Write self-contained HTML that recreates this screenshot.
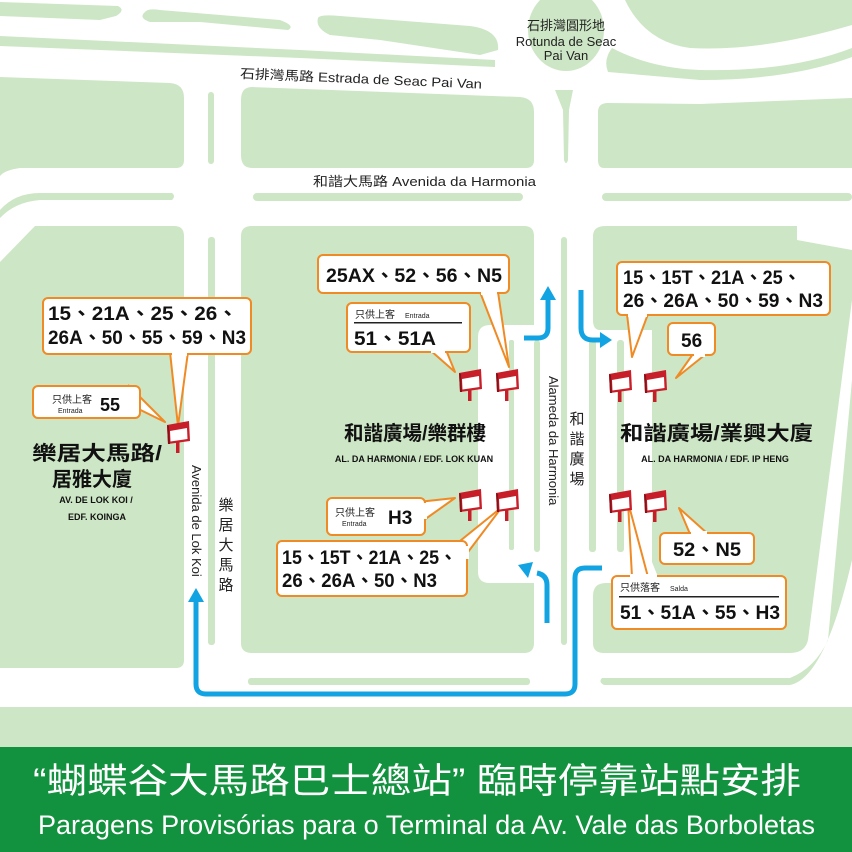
<!DOCTYPE html>
<html><head><meta charset="utf-8"><style>
html,body{margin:0;padding:0;background:#fff;}
svg{display:block;}
.n{font-family:"Liberation Sans","Noto Sans CJK TC",sans-serif;font-weight:bold;fill:#111;}
.s{font-family:"Liberation Sans","Noto Sans CJK TC",sans-serif;fill:#222;}
.b{fill:#fff;stroke:#f08a24;stroke-width:2;}
</style></head><body>
<svg width="852" height="852" viewBox="0 0 852 852" xmlns="http://www.w3.org/2000/svg">
<rect width="852" height="852" fill="#fff"/>
<g fill="#cde6c5">
<path d="M0,2 L118,6 Q126,10 116,16 L100,20 L0,16 Z"/>
<path d="M145,12 Q148,8 160,10 L280,20 Q296,26 288,30 L200,22 L150,22 Q138,18 145,12Z"/>
<path d="M318,18 Q320,14 340,16 L470,26 Q500,30 498,50 L480,55 L380,40 L330,35 Q315,28 318,18Z"/>
<path d="M0,36 L300,50 L495,60 L495,67 L300,58 L0,46 Z"/>
<ellipse cx="566" cy="30" rx="38" ry="41"/>
<path d="M625,0 L852,0 L852,25 Q760,52 690,48 Q645,42 625,0Z"/>
<path d="M612,48 Q650,68 700,70 Q790,72 852,48 L852,57 Q790,80 700,80 L608,72 Q603,60 612,48Z"/>
<path d="M0,77 L170,83 Q184,84 184,98 L184,160 Q184,168 176,168 L20,168 Q5,170 0,176Z"/>
<rect x="208" y="92" width="6" height="72" rx="3"/>
<path d="M252,87 L520,97 Q534,98 534,112 L534,160 Q534,168 526,168 L252,168 Q241,168 241,155 L241,100 Q241,87 252,87Z"/>
<path d="M555,90 L573,90 L569,110 L568,160 Q566,166 564,160 L563,110Z"/>
<path d="M608,103 L700,104 L852,98 L852,168 L604,168 Q598,168 598,160 L598,112 Q598,103 608,103Z"/>
<path d="M0,210 Q15,193 40,193 L172,193 Q176,196 172,200 L40,200 Q15,202 0,218Z"/>
<rect x="253" y="193" width="270" height="8" rx="4"/>
<rect x="602" y="193" width="250" height="8" rx="4"/>
<path d="M35,226 L174,226 Q184,226 184,236 L184,660 Q184,668 176,668 L0,668 L0,262Z"/>
<rect x="208" y="237" width="7" height="408" rx="3"/>
<path d="M252,226 L524,226 Q534,226 534,236 L534,325 L490,325 Q478,325 478,337 L478,572 Q478,583 490,583 L534,583 L534,643 Q534,653 524,653 L252,653 Q241,653 241,643 L241,236 Q241,226 252,226Z"/>
<rect x="509" y="340" width="5" height="210" rx="2"/>
<rect x="534" y="340" width="6" height="212" rx="3"/>
<rect x="561" y="237" width="6" height="408" rx="3"/>
<path d="M606,226 L797,226 L797,240 L852,250 L852,300 L808,640 Q805,653 790,653 L604,653 Q593,653 593,643 L593,596 Q593,583 606,583 L652,583 L652,330 L600,330 Q593,330 593,320 L593,236 Q593,226 606,226Z"/>
<rect x="589" y="340" width="7" height="212" rx="3"/>
<rect x="617" y="340" width="7" height="212" rx="3"/>
<path d="M852,380 L852,560 Q825,678 790,685 L604,685 Q598,682 602,678 L790,678 Q815,668 828,640 Z"/>
<rect x="248" y="678" width="282" height="7" rx="3"/>
<path d="M0,707 L852,707 L852,748 L0,748Z"/>
</g>
<rect x="0" y="747" width="852" height="105" fill="#12923f"/>
<text x="33" y="793" fill="#fff" font-family="'Liberation Sans','Noto Sans CJK TC',sans-serif" font-size="35" textLength="768" lengthAdjust="spacingAndGlyphs">“蝴蝶谷大馬路巴士總站” 臨時停靠站點安排</text>
<text x="38" y="834" fill="#fff" font-family="'Liberation Sans Narrow','Liberation Sans',sans-serif" font-size="27" textLength="777" lengthAdjust="spacingAndGlyphs">Paragens Provisórias para o Terminal da Av. Vale das Borboletas</text>

<text class="s" font-size="13" x="240" y="78" transform="rotate(2.5 240 78)" textLength="242" lengthAdjust="spacingAndGlyphs">石排灣馬路  Estrada de Seac Pai Van</text>
<text class="s" font-size="13" x="313" y="186" textLength="223" lengthAdjust="spacingAndGlyphs">和諧大馬路   Avenida da Harmonia</text>
<g class="s" font-size="13" text-anchor="middle">
<text x="566" y="30">石排灣圓形地</text>
<text x="566" y="46">Rotunda de Seac</text>
<text x="566" y="60">Pai Van</text>
</g>
<text class="s" font-size="13" transform="translate(192,465) rotate(90)">Avenida de Lok Koi</text>
<text class="s" font-size="13" transform="translate(549,376) rotate(90)">Alameda da Harmonia</text>
<g class="s" font-size="15" text-anchor="middle">
<text x="226" y="510">樂</text><text x="226" y="530">居</text><text x="226" y="550">大</text><text x="226" y="570">馬</text><text x="226" y="590">路</text>
<text x="577" y="424">和</text><text x="577" y="444">諧</text><text x="577" y="464">廣</text><text x="577" y="484">場</text>
</g>

<g stroke="#12a4e2" stroke-width="5" fill="none">
<path d="M196,600 L196,684 Q196,694 206,694 L565,694 Q575,694 575,684 L575,578 Q575,568 585,568 L602,568"/>
<path d="M547,623 L547,585 Q547,575 537,573"/>
<path d="M524,338 L538,338 Q548,338 548,328 L548,298"/>
<path d="M581,290 L581,328 Q581,340 593,340 L602,340"/>
</g>
<g fill="#12a4e2">
<path d="M188,602 L196,588 L204,602Z"/>
<path d="M518,565 L533,562 L528,578Z"/>
<path d="M540,300 L548,286 L556,300Z"/>
<path d="M600,332 L612,340 L600,348Z"/>
</g>

<g fill="#fff" stroke="#f08a24" stroke-width="2" stroke-linejoin="round">
<path d="M170,352 L178,426 L188,352"/>
<path d="M120,400 L165,422 L128,385"/>
<path d="M480,292 L509,367 L498,292"/>
<path d="M430,350 L455,372 L446,350"/>
<path d="M627,314 L632,357 L648,314"/>
<path d="M693,354 L676,378 L706,354"/>
<path d="M418,502 L455,498 L424,520"/>
<path d="M455,545 L502,507 L462,560"/>
<path d="M690,534 L679,508 L708,534"/>
<path d="M628,502 L632,577 L640,577"/>
<path d="M628,502 L648,577 L658,577"/>
</g>
<rect class="b" x="43" y="298" width="208" height="56" rx="5"/>
<rect class="b" x="33" y="386" width="107" height="32" rx="5"/>
<rect class="b" x="318" y="255" width="191" height="38" rx="5"/>
<rect class="b" x="347" y="303" width="123" height="49" rx="5"/>
<rect class="b" x="617" y="262" width="213" height="53" rx="5"/>
<rect class="b" x="668" y="323" width="47" height="32" rx="5"/>
<rect class="b" x="327" y="498" width="98" height="37" rx="5"/>
<rect class="b" x="277" y="541" width="190" height="55" rx="5"/>
<rect class="b" x="660" y="533" width="94" height="31" rx="5"/>
<rect class="b" x="612" y="576" width="174" height="53" rx="5"/>
<g fill="#fff">
<rect x="172" y="350" width="15" height="6"/>
<rect x="481" y="290" width="16" height="5"/>
<rect x="431" y="348" width="14" height="5"/>
<rect x="628" y="312" width="19" height="5"/>
<rect x="694" y="352" width="11" height="5"/>
<rect x="424" y="503" width="3" height="16"/>
<rect x="464" y="546" width="5" height="13"/>
<rect x="691" y="531" width="16" height="5"/>
<rect x="630" y="574" width="27" height="5"/>
</g>
<g class="n" font-size="19">
<text x="48" y="320" textLength="190" lengthAdjust="spacingAndGlyphs">15、21A、25、26、</text>
<text x="48" y="344" textLength="198" lengthAdjust="spacingAndGlyphs">26A、50、55、59、N3</text>
<text x="100" y="411" font-size="18">55</text>
<text x="326" y="282" textLength="176" lengthAdjust="spacingAndGlyphs">25AX、52、56、N5</text>
<text x="354" y="345" textLength="82" lengthAdjust="spacingAndGlyphs">51、51A</text>
<text x="623" y="284" textLength="178" lengthAdjust="spacingAndGlyphs">15、15T、21A、25、</text>
<text x="623" y="307" textLength="200" lengthAdjust="spacingAndGlyphs">26、26A、50、59、N3</text>
<text x="681" y="347">56</text>
<text x="388" y="524">H3</text>
<text x="282" y="564" textLength="175" lengthAdjust="spacingAndGlyphs">15、15T、21A、25、</text>
<text x="282" y="587" textLength="155" lengthAdjust="spacingAndGlyphs">26、26A、50、N3</text>
<text x="673" y="556" textLength="68" lengthAdjust="spacingAndGlyphs">52、N5</text>
<text x="620" y="619" textLength="160" lengthAdjust="spacingAndGlyphs">51、51A、55、H3</text>
</g>
<g class="s" font-size="10">
<text x="52" y="403">只供上客</text><text x="58" y="413" font-size="7">Entrada</text>
<text x="355" y="318">只供上客</text><text x="405" y="318" font-size="7">Entrada</text>
<text x="335" y="516">只供上客</text><text x="342" y="526" font-size="7">Entrada</text>
<text x="620" y="591">只供落客</text><text x="670" y="591" font-size="7">Salda</text>
</g>
<rect x="354" y="322" width="108" height="1.5" fill="#222"/>
<rect x="619" y="596" width="160" height="1.5" fill="#222"/>

<g class="n" font-size="20">
<text x="32" y="460" textLength="130" lengthAdjust="spacingAndGlyphs">樂居大馬路/</text>
<text x="52" y="486">居雅大廈</text>
<text x="344" y="440" textLength="142" lengthAdjust="spacingAndGlyphs">和諧廣場/樂群樓</text>
<text x="620" y="440" textLength="193" lengthAdjust="spacingAndGlyphs">和諧廣場/業興大廈</text>
</g>
<g class="n" font-size="9" text-anchor="middle">
<text x="96" y="503">AV. DE LOK KOI /</text>
<text x="97" y="520">EDF. KOINGA</text>
<text x="414" y="462">AL. DA HARMONIA / EDF. LOK KUAN</text>
<text x="715" y="462">AL. DA HARMONIA / EDF. IP HENG</text>
</g>

<defs>
<g id="sg">
<rect x="9" y="20" width="3.5" height="12" fill="#c81e2a"/>
<path d="M0,4 L22,0 L23,20 L1,23 Z" fill="#c81e2a"/>
<path d="M3,10 L20,7 L20.5,18 L3.5,20.5 Z" fill="#fff"/>
<path d="M0,4 L2,5 L3,23 L1,23Z" fill="#8a1018"/>
</g>
</defs>
<use href="#sg" x="167" y="421"/>
<use href="#sg" x="459" y="369"/>
<use href="#sg" x="496" y="369"/>
<use href="#sg" x="609" y="370"/>
<use href="#sg" x="644" y="370"/>
<use href="#sg" x="459" y="489"/>
<use href="#sg" x="496" y="489"/>
<use href="#sg" x="609" y="490"/>
<use href="#sg" x="644" y="490"/>
</svg>
</body></html>
